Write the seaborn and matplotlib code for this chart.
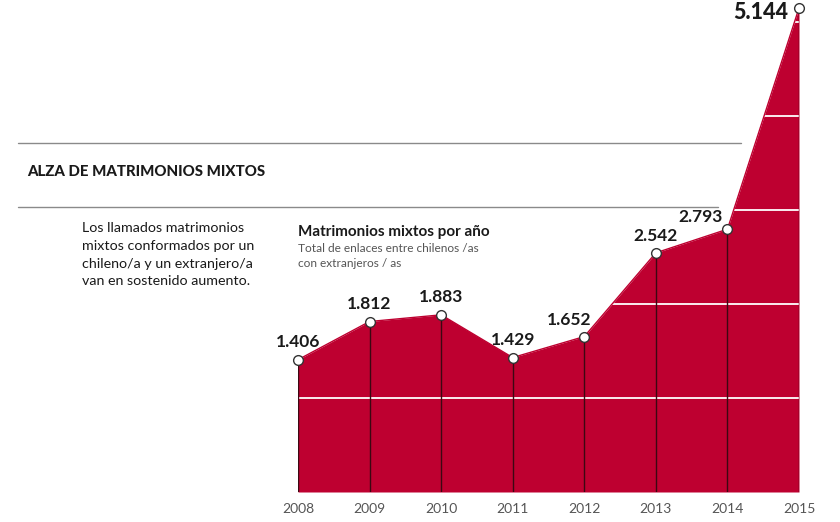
import matplotlib.pyplot as plt
import seaborn as sns
import pandas as pd

years = [2008, 2009, 2010, 2011, 2012, 2013, 2014, 2015]
values = [1406, 1812, 1883, 1429, 1652, 2542, 2793, 5144]
labels = ['1.406', '1.812', '1.883', '1.429', '1.652', '2.542', '2.793', '5.144']
grid_values = [1000, 2000, 3000, 4000, 5000]

RED = '#be0030'
W, H = 840, 522

sns.set_style('white')
plt.rcParams['font.family'] = ['Lato', 'DejaVu Sans']

df = pd.DataFrame({'year': years, 'value': values})

fig = plt.figure(figsize=(W / 100, H / 100), dpi=100)
ax = fig.add_axes([298 / W, (H - 492) / H, (799 - 298) / W, 484 / H])

ax.fill_between(df['year'], 0, df['value'], color=RED, lw=0, zorder=1)
for g in grid_values:
    ax.axhline(g, color='white', lw=1.3, zorder=2)
ax.vlines(df['year'], 0, df['value'], color='#3c0812', lw=1, zorder=3)
sns.lineplot(data=df, x='year', y='value', ax=ax, color=RED, lw=1,
             marker='o', markersize=7, markerfacecolor='white',
             markeredgecolor='#333333', markeredgewidth=1, zorder=4,
             clip_on=False)

# label offsets in points (style only)
offsets = [(0, 7), (0, 7), (0, 7), (0, 7), (-11, 6), (0, 6), (-19, 3)]
for (x, y, t), (dx, dy) in zip(zip(years, values, labels), offsets):
    ax.annotate(t, (x, y), xytext=(dx, dy), textcoords='offset points',
                ha='center', va='bottom', fontsize=12.5, fontweight='bold',
                color='#1a1a1a')
ax.annotate(labels[-1], (years[-1], values[-1]), xytext=(-8, -3),
            textcoords='offset points', ha='right', va='center',
            fontsize=15.5, fontweight='black', color='#1a1a1a')

ax.set_xlim(2008, 2015)
ax.set_ylim(0, 5144)
ax.set_xticks(years)
ax.set_xticklabels([str(y) for y in years], fontsize=10, color='#555555')
ax.tick_params(axis='x', length=0, pad=8)
ax.set_yticks([])
ax.set_xlabel('')
ax.set_ylabel('')
sns.despine(ax=ax, left=True, bottom=True)
ax.patch.set_alpha(0)

# decorative rules and texts
fig.add_artist(plt.Line2D([18 / W, 741 / W], [1 - 143 / H, 1 - 143 / H],
                          color='#8a8a8a', lw=1))
fig.add_artist(plt.Line2D([18 / W, 718 / W], [1 - 207 / H, 1 - 207 / H],
                          color='#8a8a8a', lw=1))
fig.text(27 / W, 1 - 172 / H, 'ALZA DE MATRIMONIOS MIXTOS', fontsize=10.8,
         fontweight='black', color='#1a1a1a', va='center')
fig.text(82 / W, 1 - 222 / H,
         'Los llamados matrimonios\nmixtos conformados por un\n'
         'chileno/a y un extranjero/a\nvan en sostenido aumento.',
         fontsize=10.3, color='#1a1a1a', va='top', linespacing=1.58)
fig.text(298 / W, 1 - 232 / H, 'Matrimonios mixtos por año', fontsize=11,
         fontweight='bold', color='#1a1a1a', va='center')
fig.text(298 / W, 1 - 243 / H, 'Total de enlaces entre chilenos /as\n'
         'con extranjeros / as', fontsize=8.6, color='#555555', va='top',
         linespacing=1.5)

fig.savefig('out.png', dpi=100)
